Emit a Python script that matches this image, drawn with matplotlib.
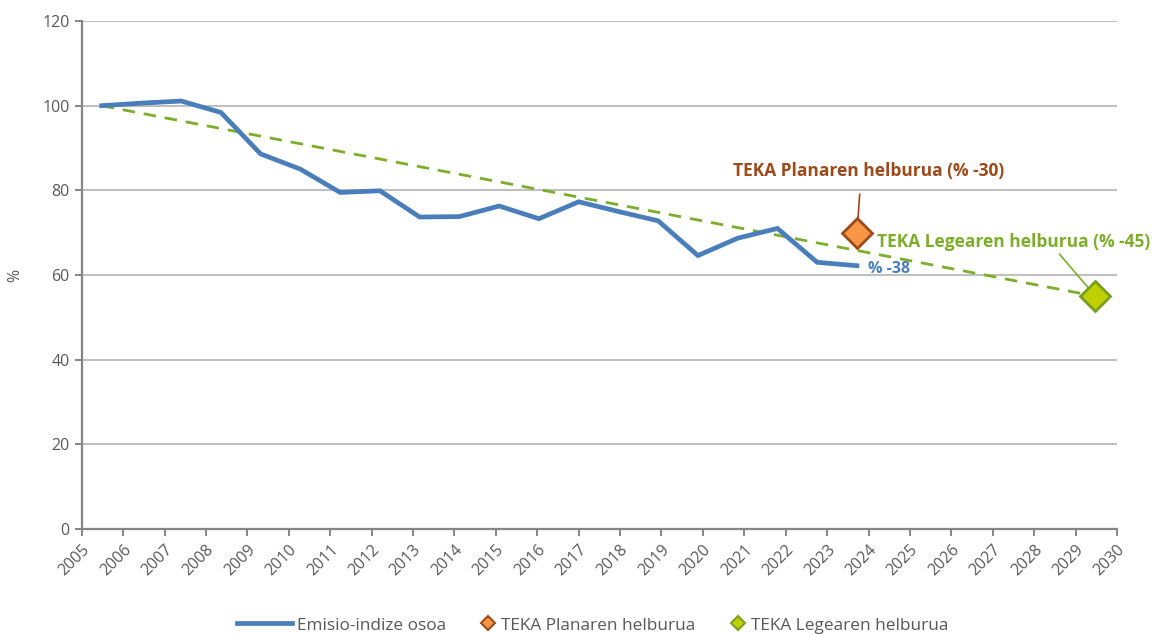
import matplotlib
matplotlib.use("Agg")
import matplotlib.pyplot as plt
from matplotlib.lines import Line2D
from matplotlib.legend_handler import HandlerLine2D
import numpy as np

plt.rcParams['font.family'] = ['Open Sans', 'DejaVu Sans']

years = list(range(2005, 2031))
emission_years = list(range(2005, 2025))
emission_index = [100, 100.6, 101.1, 98.4, 88.6, 85.0, 79.5, 79.9, 73.7, 73.8,
                  76.3, 73.3, 77.3, 75.0, 72.8, 64.6, 68.7, 71.0, 63.0, 62.2]
trend_years = [2005, 2030]
trend_values = [100, 55]
plan_year, plan_value = 2024, 70
law_year, law_value = 2030, 55

BLUE = '#4A7EBB'
GREEN = '#7DAD2C'
BROWN = '#9C4A1A'
ORANGE = '#F79646'
LIME = '#BFD000'
GRID = '#C0C0C0'
AXIS = '#858585'
TXT = '#595959'

fig = plt.figure(figsize=(11.52, 6.35), dpi=100)
ax = fig.add_axes([0.0709, 0.1669, 0.8987, 0.8])

x0 = 2005
ex = [y - x0 for y in emission_years]
ax.plot([y - x0 for y in trend_years], trend_values, color=GREEN, lw=2.0,
        ls=(0, (4.5, 3.2)), zorder=3)
ax.plot(ex, emission_index, color=BLUE, lw=3.4, solid_joinstyle='miter', zorder=4)
ax.plot([plan_year - x0], [plan_value], marker='D', ms=15, mfc=ORANGE, mec=BROWN,
        mew=2, ls='none', zorder=5)
ax.plot([law_year - x0], [law_value], marker='D', ms=15, mfc=LIME, mec='#7A9E20',
        mew=2, ls='none', zorder=5)

# annotations
ax.annotate('TEKA Planaren helburua (% -30)', xy=(plan_year - x0, plan_value),
            xytext=(plan_year - x0 + 0.3, 84.5), color=BROWN, fontsize=12.5,
            fontweight='bold', ha='center', va='center',
            arrowprops=dict(arrowstyle='-', color=BROWN, lw=1.2,
                            shrinkA=8, shrinkB=0, relpos=(0.47, 0)))
ax.annotate('TEKA Legearen helburua (% -45)', xy=(law_year - x0, law_value),
            xytext=(plan_year - x0 + 0.5, 67.7), color=GREEN, fontsize=12.5,
            fontweight='bold', ha='left', va='center',
            arrowprops=dict(arrowstyle='-', color=GREEN, lw=1.2,
                            shrinkA=0, shrinkB=0, relpos=(0.66, 0)))
ax.text(ex[-1] + 0.28, emission_index[-1] - 0.8, '% -38', color=BLUE,
        fontsize=11.5, fontweight='bold', ha='left', va='center')

# axes
ax.set_ylim(0, 120)
ax.set_yticks(np.arange(0, 121, 20))
left = (81.7 - 101.7) / 39.75
right = (1117 - 101.7) / 39.75
ax.set_xlim(left, right)
ax.set_xticks(np.linspace(left, right, len(years)))
ax.set_xticklabels([str(y) for y in years], rotation=45, ha='right',
                   rotation_mode='anchor')
ax.yaxis.grid(True, color=GRID, lw=1.5)
ax.set_axisbelow(True)
for s in ['top', 'right']:
    ax.spines[s].set_visible(False)
for s in ['left', 'bottom']:
    ax.spines[s].set_color(AXIS)
    ax.spines[s].set_linewidth(1.6)
ax.tick_params(axis='both', colors=AXIS, labelcolor=TXT, labelsize=11.5,
               length=5, width=1.4)
ax.tick_params(axis='x', pad=4)
fig.text(15 / 1152, 1 - 275 / 635, '%', color=TXT, fontsize=11.5, rotation=90,
         ha='center', va='center')


class RightMarker(HandlerLine2D):
    def get_xdata(self, legend, xdescent, ydescent, width, height, fontsize):
        xs = [-xdescent + width - 14, -xdescent + width]
        return xs, xs


class LongLine(HandlerLine2D):
    def get_xdata(self, legend, xdescent, ydescent, width, height, fontsize):
        xs = [-xdescent + width - 41, -xdescent + width - 1]
        return xs, xs


handles = [Line2D([], [], color=BLUE, lw=3.4),
           Line2D([], [], marker='D', ms=7, mfc=ORANGE, mec=BROWN, mew=1.5, ls='none'),
           Line2D([], [], marker='D', ms=7, mfc=LIME, mec='#7A9E20', mew=1.5, ls='none')]
labels = ['Emisio-indize osoa', 'TEKA Planaren helburua', 'TEKA Legearen helburua']
fig.legend(handles, labels, loc='center', bbox_to_anchor=(0.524, 0.015), ncol=3,
           frameon=False, fontsize=12.4, labelcolor=TXT, handlelength=2.0,
           handletextpad=0.2, columnspacing=1.0,
           handler_map={handles[0]: LongLine(), handles[1]: RightMarker(),
                        handles[2]: RightMarker()})

fig.savefig('out.png', dpi=100)
